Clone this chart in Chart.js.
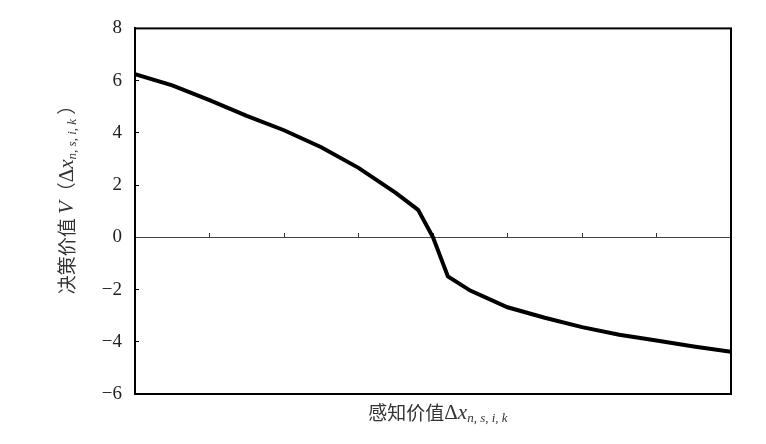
<!DOCTYPE html>
<html>
<head>
<meta charset="utf-8">
<script src="https://cdn.jsdelivr.net/npm/chart.js@4"></script>
<style>
  html, body { margin: 0; padding: 0; background: #fff; }
  #wrap { width: 766px; height: 444px; }
</style>
</head>
<body>
<div id="wrap"><canvas id="chart" width="766" height="444"></canvas></div>
<script>
// perceived value (x) and decision value (y)
const perceivedValues = [-4, -3.5, -3, -2.5, -2, -1.5, -1, -0.5, -0.2, 0, 0.2, 0.5, 1, 1.5, 2, 2.5, 3, 3.5, 4];
const decisionValues  = [6.25, 5.82, 5.25, 4.65, 4.1, 3.45, 2.66, 1.7, 1.05, 0, -1.5, -2.04, -2.68, -3.08, -3.44, -3.73, -3.95, -4.18, -4.38];
const yTicks = [-6, -4, -2, 0, 2, 4, 6, 8];

const SERIF = '"Liberation Serif", "DejaVu Serif", serif';
const CJK = '"Noto Sans CJK SC", sans-serif';

const xTitle = [
  { t: '感知价值', font: '19px ' + CJK },
  { t: 'Δ', font: '21px ' + SERIF },
  { t: 'x', font: 'italic 21px ' + SERIF },
  { t: 'n, s, i, k', font: 'italic 13px ' + SERIF, dy: 6 }
];
const yTitle = [
  { t: '决策价值 ', font: '19px ' + CJK },
  { t: 'V', font: 'italic 21px ' + SERIF },
  { t: '（', font: '19px ' + CJK },
  { t: 'Δ', font: '21px ' + SERIF },
  { t: 'x', font: 'italic 21px ' + SERIF },
  { t: 'n, s, i, k', font: 'italic 13px ' + SERIF, dy: 6 },
  { t: ' ）', font: '19px ' + CJK }
];

function drawRich(ctx, parts, cx, cy, angle) {
  ctx.save();
  ctx.translate(cx, cy);
  ctx.rotate(angle);
  let total = 0;
  parts.forEach(p => { ctx.font = p.font; p.w = ctx.measureText(p.t).width; total += p.w; });
  let x = -total / 2;
  ctx.fillStyle = '#333';
  ctx.textBaseline = 'middle';
  ctx.textAlign = 'left';
  parts.forEach(p => {
    ctx.font = p.font;
    ctx.fillText(p.t, x, p.dy || 0);
    x += p.w;
  });
  ctx.restore();
}

const framePlugin = {
  id: 'frame',
  afterDraw(chart) {
    const { ctx, chartArea: a } = chart;
    ctx.save();
    ctx.strokeStyle = '#000';
    ctx.lineWidth = 2;
    ctx.strokeRect(a.left, a.top, a.right - a.left, a.bottom - a.top);
    ctx.restore();
    drawRich(ctx, xTitle, 438, 413, 0);
    drawRich(ctx, yTitle, 67, 195, -Math.PI / 2);
  }
};

new Chart(document.getElementById('chart'), {
  type: 'line',
  data: {
    datasets: [{
      data: perceivedValues.map((x, i) => ({ x: x, y: decisionValues[i] })),
      borderColor: '#000',
      borderWidth: 4,
      pointRadius: 0,
      tension: 0,
      fill: false
    }]
  },
  options: {
    responsive: false,
    animation: false,
    layout: { padding: { left: 95, right: 35, top: 24, bottom: 50 } },
    plugins: { legend: { display: false }, tooltip: { enabled: false } },
    scales: {
      x: {
        type: 'linear',
        position: { y: 0 },
        min: -4,
        max: 4,
        ticks: { display: false, stepSize: 1 },
        grid: { drawOnChartArea: false, tickLength: -5, color: '#333', lineWidth: 1 },
        border: { display: true, color: '#444', width: 1 }
      },
      y: {
        min: -6,
        max: 8,
        afterBuildTicks(scale) { scale.ticks = yTicks.map(v => ({ value: v })); },
        afterFit(scale) { scale.width = 40; },
        ticks: {
          padding: 17,
          color: '#222',
          font: { family: SERIF, size: 19 },
          callback: v => (v < 0 ? '\u2212' + Math.abs(v) : String(v))
        },
        grid: { drawOnChartArea: false, tickLength: -4, color: '#000', lineWidth: 1 },
        border: { display: true, color: '#000', width: 2 }
      }
    }
  },
  plugins: [framePlugin]
});
</script>
</body>
</html>
